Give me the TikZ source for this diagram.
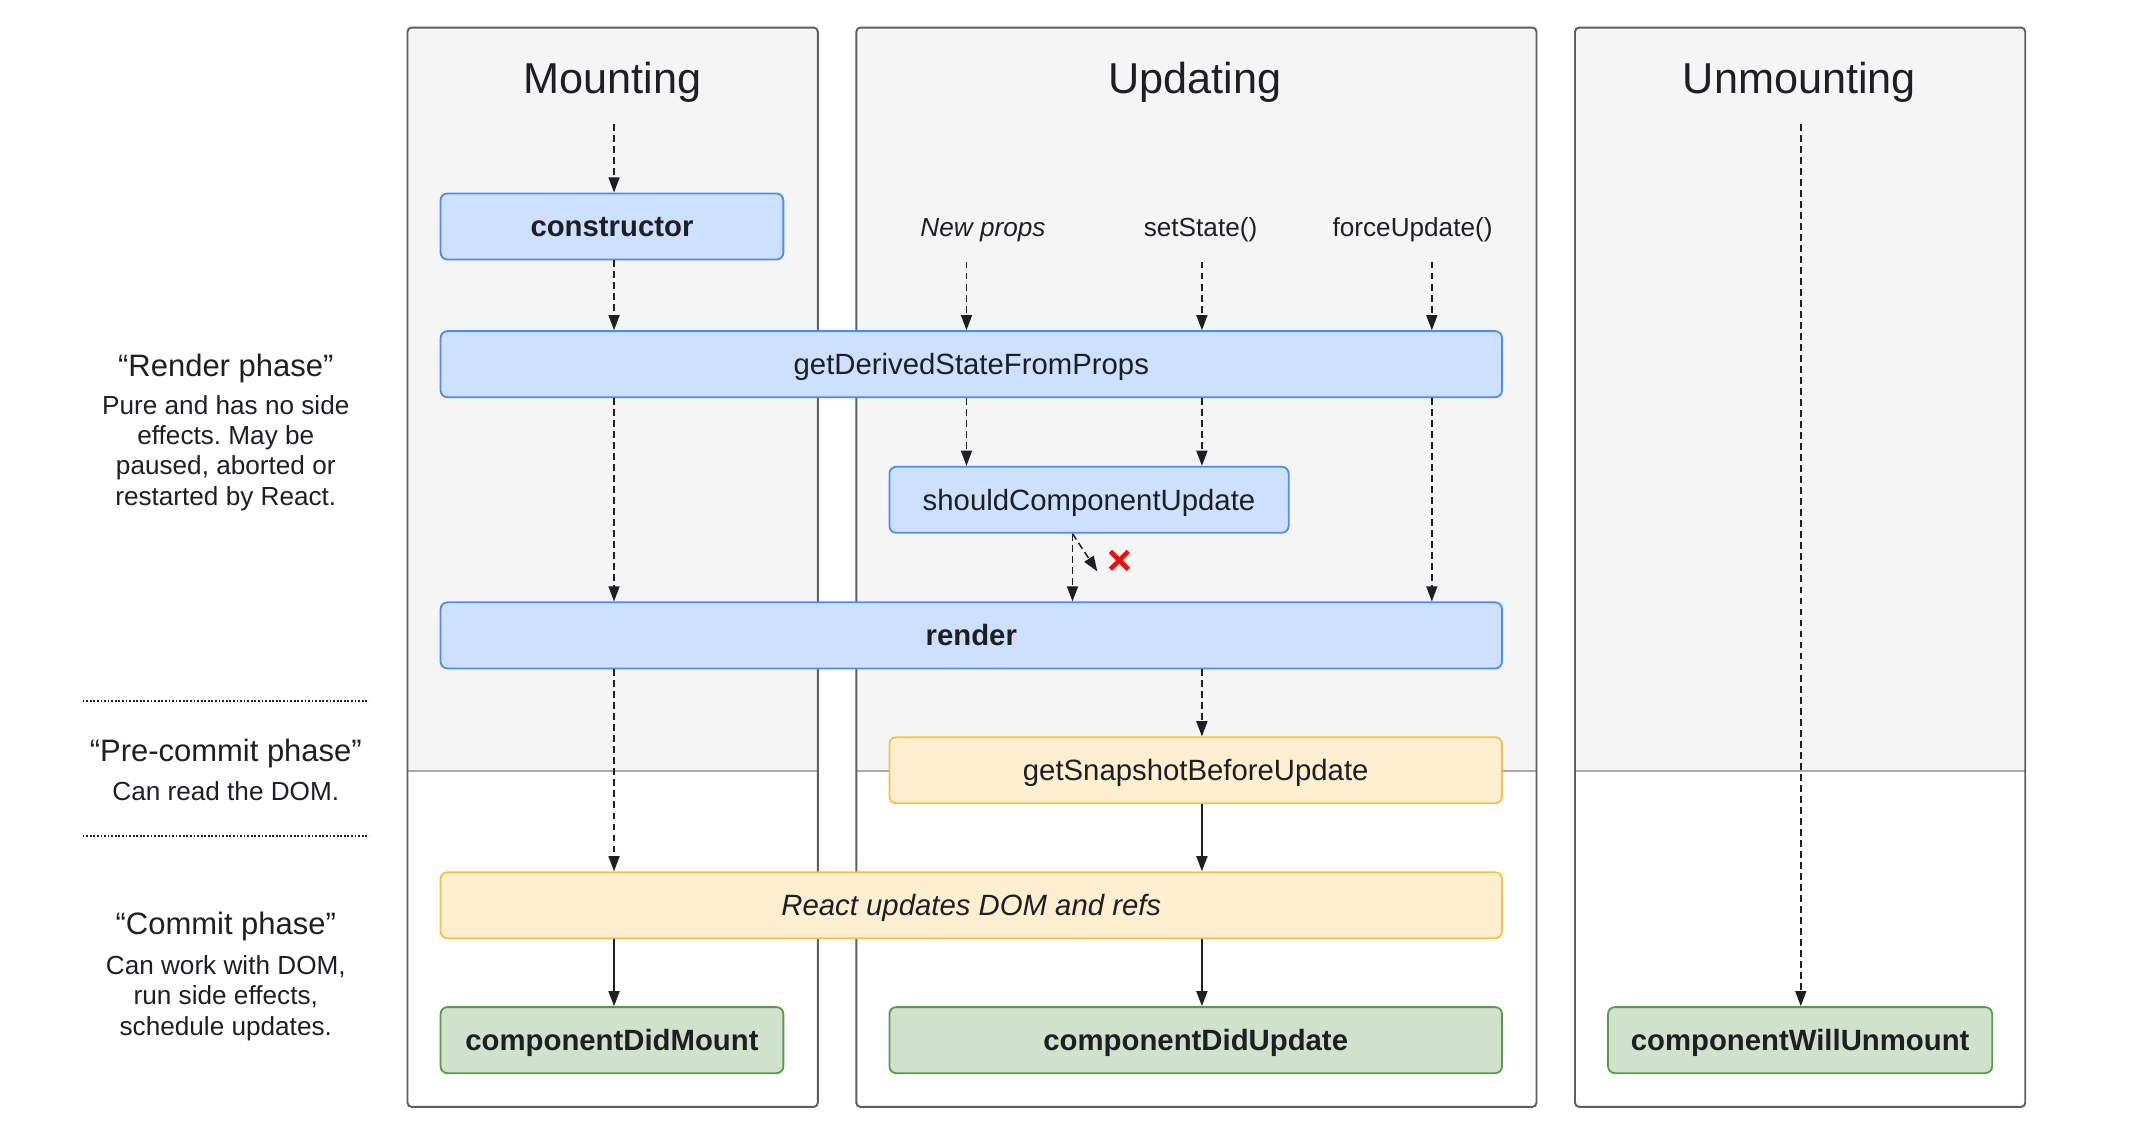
\documentclass[tikz,border=0pt]{standalone}
\usepackage{fontspec}
\setmainfont{Liberation Sans}
\usepackage{xcolor}
\usetikzlibrary{arrows.meta}
\frenchspacing

\definecolor{ink}{HTML}{1D1F24}
\definecolor{panelfill}{HTML}{F5F5F5}
\definecolor{panelline}{HTML}{5F5F5F}
\definecolor{sepline}{HTML}{A8A8A8}
\definecolor{bluefill}{HTML}{CDE0FE}
\definecolor{blueline}{HTML}{4B8BF5}
\definecolor{yellowfill}{HTML}{FDEFCF}
\definecolor{yellowline}{HTML}{F8C04A}
\definecolor{greenfill}{HTML}{D0E2CC}
\definecolor{greenline}{HTML}{5A9A4E}
\definecolor{crossred}{HTML}{F00D0D}

\begin{document}
\begin{tikzpicture}[x=1pt,y=-1pt,
    box/.style={shape=rectangle, rounded corners=5pt, line width=1.3pt, inner sep=0pt,
      minimum height=48pt, text=ink, text height=17pt, text depth=2pt,
      font=\fontsize{21.3}{25}\selectfont},
    bluebox/.style={box, draw=blueline, fill=bluefill},
    yellowbox/.style={box, draw=yellowline, fill=yellowfill},
    greenbox/.style={box, draw=greenline, fill=greenfill},
    boldlabel/.style={font=\fontsize{21.3}{25}\selectfont\bfseries},
    title/.style={text=ink, inner sep=0pt, anchor=base, font=\fontsize{31.4}{36}\selectfont},
    trigger/.style={text=ink, inner sep=0pt, font=\fontsize{19}{22}\selectfont},
    phasehead/.style={text=ink, inner sep=0pt, font=\fontsize{22.5}{26}\selectfont},
    phasetext/.style={text=ink, inner sep=0pt, align=center, font=\fontsize{19}{22}\selectfont},
    dasharrow/.style={draw=ink, line width=1.1pt, dash pattern=on 5pt off 3pt,
      -{Triangle[length=11pt,width=8pt]}},
    solidarrow/.style={draw=ink, line width=1.3pt, -{Triangle[length=11pt,width=8pt]}},
    crossmark/.style={draw=crossred, line width=3.4pt}]
    \useasboundingbox (0,0) rectangle (1566,822);

    % the three panels, grey above the commit line
    \foreach \l/\r in {296/594, 622/1116, 1144/1471} {
      \begin{scope}
        \clip[rounded corners=3pt] (\l,20) rectangle (\r,804);
        \fill[panelfill] (\l,20) rectangle (\r,560);
      \end{scope}
      \draw[sepline, line width=1.3pt] (\l,560) -- (\r,560);
      \draw[panelline, line width=1.4pt, rounded corners=3pt] (\l,20) rectangle (\r,804);
    }

    \node[title] (mounttitle) at (445,68) {Mounting};
    \node[title] (updatetitle) at (868,68) {Updating};
    \node[title] (unmounttitle) at (1307,68) {Unmounting};

    % phases on the left
    \node[phasehead] (renderhead) at (164,268) {“Render phase”};
    \node[phasetext] (rendertext) at (164,329) {Pure and has no side\\effects. May be\\paused, aborted or\\restarted by React.};
    \node[phasehead] (precommithead) at (164,547) {“Pre-commit phase”};
    \node[phasetext] (precommittext) at (164,575) {Can read the DOM.};
    \node[phasehead] (commithead) at (164,673) {“Commit phase”};
    \node[phasetext] (committext) at (164,725) {Can work with DOM,\\run side effects,\\schedule updates.};
    \draw[ink, line width=1.3pt, dash pattern=on 1.3pt off 1.3pt] (60,509) -- (268,509);
    \draw[ink, line width=1.3pt, dash pattern=on 1.3pt off 1.3pt] (60,607) -- (268,607);

    % lifecycle methods
    \node[bluebox, boldlabel, minimum width=249pt] (ctor) at (444.5,164.5) {constructor};
    \node[bluebox, minimum width=771pt] (gdsfp) at (705.5,264.5) {getDerivedStateFromProps};
    \node[bluebox, minimum width=290pt] (scu) at (791,363) {shouldComponentUpdate};
    \node[bluebox, boldlabel, minimum width=771pt] (render) at (705.5,461.5) {render};
    \node[yellowbox, minimum width=445pt] (gsbu) at (868.5,559.5) {getSnapshotBeforeUpdate};
    \node[yellowbox, minimum width=771pt] (rud) at (705.5,657.5) {\itshape React updates DOM and refs};
    \node[greenbox, boldlabel, minimum width=249pt] (cdm) at (444.5,755.5) {componentDidMount};
    \node[greenbox, boldlabel, minimum width=445pt] (cdu) at (868.5,755.5) {componentDidUpdate};
    \node[greenbox, boldlabel, minimum width=279pt] (cwu) at (1307.5,755.5) {componentWillUnmount};

    \node[trigger] (newprops) at (714,167) {\itshape New props};
    \node[trigger] (setstate) at (872,167) {setState()};
    \node[trigger] (forceupdate) at (1026,167) {forceUpdate()};

    % columns of the arrows
    \coordinate (mcol) at (446,90);
    \coordinate (pcol) at (702,190);
    \coordinate (scol) at (873,190);
    \coordinate (fcol) at (1040,190);
    \coordinate (ycol) at (779,390);
    \coordinate (xtip) at (797,415);
    \coordinate (ucol) at (1308,90);

    % mounting
    \draw[dasharrow] (mcol) -- (mcol |- ctor.north);
    \draw[dasharrow] (ctor.south -| mcol) -- (gdsfp.north -| mcol);
    \draw[dasharrow] (gdsfp.south -| mcol) -- (render.north -| mcol);
    \draw[dasharrow] (render.south -| mcol) -- (rud.north -| mcol);
    \draw[solidarrow] (rud.south -| mcol) -- (cdm.north -| mcol);

    % updating
    \draw[dasharrow] (pcol) -- (gdsfp.north -| pcol);
    \draw[dasharrow] (scol) -- (gdsfp.north -| scol);
    \draw[dasharrow] (fcol) -- (gdsfp.north -| fcol);
    \draw[dasharrow] (gdsfp.south -| pcol) -- (scu.north -| pcol);
    \draw[dasharrow] (gdsfp.south -| scol) -- (scu.north -| scol);
    \draw[dasharrow] (gdsfp.south -| fcol) -- (render.north -| fcol);
    \draw[dasharrow] (scu.south -| ycol) -- (render.north -| ycol);
    \draw[dasharrow] (scu.south -| ycol) -- (xtip);
    \draw[crossmark, shift={(813,407)}] (-6.5,-6.5) -- (6.5,6.5) (-6.5,6.5) -- (6.5,-6.5);
    \draw[dasharrow] (render.south -| scol) -- (gsbu.north -| scol);
    \draw[solidarrow] (gsbu.south -| scol) -- (rud.north -| scol);
    \draw[solidarrow] (rud.south -| scol) -- (cdu.north -| scol);

    % unmounting
    \draw[dasharrow] (ucol) -- (cwu.north -| ucol);
\end{tikzpicture}
\end{document}
